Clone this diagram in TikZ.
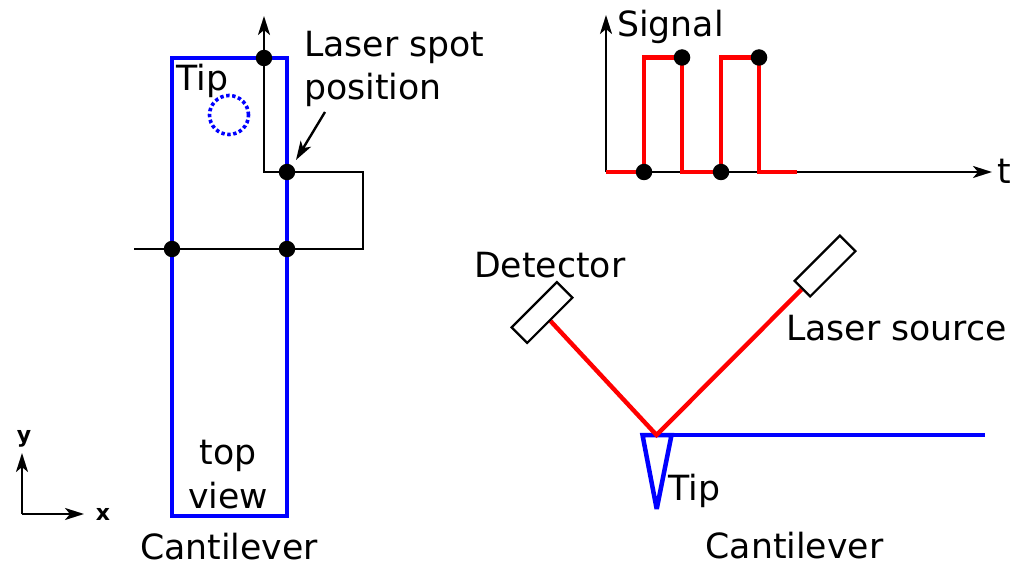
\documentclass[tikz,border=0pt]{standalone}
\usepackage{fontspec}
\setmainfont{DejaVu Sans}
\usetikzlibrary{arrows.meta,backgrounds}
\tikzset{
  label text/.style={inner sep=0pt,anchor=base west,font=\fontsize{34.7}{43}\selectfont,text=black},
  two lines/.style={label text,anchor=base},
  axis label/.style={inner sep=0pt,anchor=base,font=\fontsize{22}{24}\selectfont\bfseries},
  dotmark/.style={circle,fill=black,inner sep=0pt,minimum size=16.5pt},
  wire/.style={draw=black,line width=2.4pt,line join=miter},
  tipped/.style={wire,-{Stealth[length=19pt,width=12pt,inset=5pt]}},
  beam/.style={draw=red,line width=4.4pt,line join=miter},
  bluepart/.style={draw=blue,line width=4.5pt,line join=miter,miter limit=3},
  optic/.style={draw=black,line width=2.2pt,fill=white,rectangle,rotate=45,inner sep=0pt,minimum width=64pt,minimum height=22pt}
}
\begin{document}
\begin{tikzpicture}[x=1pt,y=-1pt]
\useasboundingbox (0,0) rectangle (1013,564);
% top view
\node[bluepart,rectangle,inner sep=0pt,minimum width=115pt,minimum height=458pt] (beamtop) at (229.5,287) {};
\node[draw=blue,line width=3.6pt,circle,dash pattern=on 3.4pt off 2.6pt,inner sep=0pt,minimum size=39pt] (tipspot) at (229,115) {};
\node[dotmark] (d1) at (264,58) {};
\node[dotmark] (d2) at (287,172) {};
\node[dotmark] (d3) at (172,249) {};
\node[dotmark] (d4) at (287,249) {};
\coordinate (wstart) at (134,249);
\coordinate (wc1) at (363,249);
\coordinate (wc2) at (363,172);
\coordinate (wc3) at (264,172);
\coordinate (wend) at (264,16);
\coordinate (callout) at (325,112);
\coordinate (callend) at (296,160);
\node[label text] (ltip) at (176,90.5) {Tip};
\node[label text,anchor=west,align=left] (lspot) at (304,69) {Laser spot\\position};
\node[two lines] (ltop) at (228,464.5) {top};
\node[two lines] (lview) at (228,508) {view};
\node[two lines] (lcant) at (229,559.5) {Cantilever};
% axes xy
\coordinate (xyo) at (22,514);
\coordinate (xyy) at (22,453);
\coordinate (xyx) at (84,514);
\node[axis label] (ly) at (24,442) {y};
\node[axis label] (lx) at (103,520) {x};
% signal
\coordinate (so) at (606,172);
\coordinate (sy) at (606,15);
\coordinate (st) at (992,172);
\coordinate (s1) at (644,57.5);
\coordinate (s5) at (721,57.5);
\coordinate (s9) at (797,172);
\coordinate (s3) at (682,172);
\coordinate (s7) at (759,172);
\node[dotmark] (p1) at (644,172) {};
\node[dotmark] (p2) at (682,57.5) {};
\node[dotmark] (p3) at (721,172) {};
\node[dotmark] (p4) at (759,57.5) {};
\node[label text] (lsig) at (617,36.5) {Signal};
\node[label text] (lt) at (997,184) {t};
% side view
\node[optic] (det) at (542,312.5) {};
\node[optic] (src) at (825,266) {};
\coordinate (hit) at (656.5,435);
\coordinate (tl) at (642.5,435);
\coordinate (tr) at (671.5,435);
\coordinate (tb) at (656.7,509);
\coordinate (cend) at (985,435);
\node[label text] (ldet) at (474,278) {Detector};
\node[label text] (lsrc) at (786,341) {Laser source};
\node[label text] (ltip2) at (668,500) {Tip};
\node[two lines] (lcant2) at (794.5,558) {Cantilever};
\begin{scope}[on background layer]
\draw[wire] (wstart) -- (d3.center) -- (d4.center) -- (wc1) -- (wc2) -- (d2.center) -- (wc3) -- (d1.center);
\draw[tipped] (d1.center) -- (wend);
\draw[tipped] (callout) -- (callend);
\draw[tipped] (xyo) -- (xyy);
\draw[tipped] (xyo) -- (xyx);
\draw[tipped] (so) -- (sy);
\draw[tipped] (so) -- (st);
\draw[beam] (so) -- (p1.center) -- (s1) -- (p2.center) -- (s3) -- (p3.center) -- (s5) -- (p4.center) -- (s7) -- (s9);
\draw[bluepart] (tl) -- (tb) -- (tr) -- cycle;
\draw[bluepart] (tr) -- (cend);
\draw[beam] (det.south) -- (hit) -- (src.west);
\end{scope}
\end{tikzpicture}
\end{document}
